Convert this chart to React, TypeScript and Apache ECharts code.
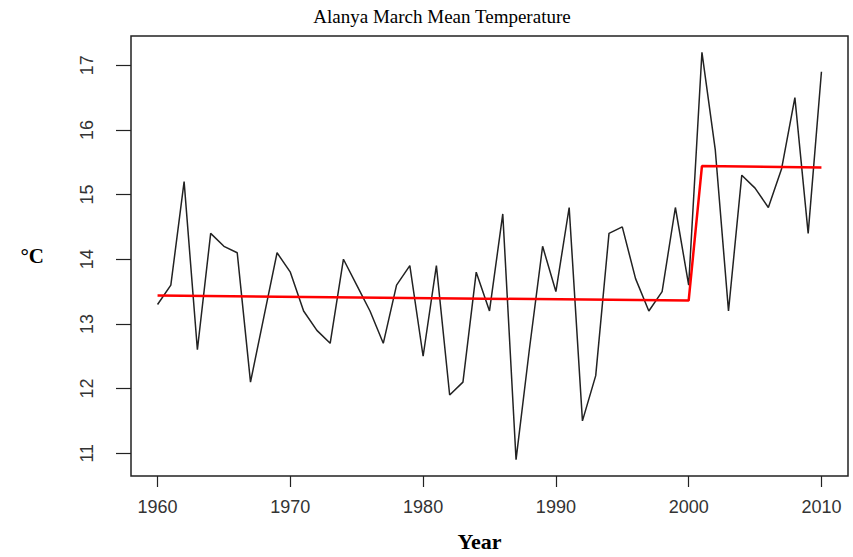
import React, { useEffect, useRef } from "react";
import * as echarts from "echarts";

const years = [
  1960, 1961, 1962, 1963, 1964, 1965, 1966, 1967, 1968, 1969,
  1970, 1971, 1972, 1973, 1974, 1975, 1976, 1977, 1978, 1979,
  1980, 1981, 1982, 1983, 1984, 1985, 1986, 1987, 1988, 1989,
  1990, 1991, 1992, 1993, 1994, 1995, 1996, 1997, 1998, 1999,
  2000, 2001, 2002, 2003, 2004, 2005, 2006, 2007, 2008, 2009, 2010,
];
const temps = [
  13.3, 13.6, 15.2, 12.6, 14.4, 14.2, 14.1, 12.1, 13.1, 14.1,
  13.8, 13.2, 12.9, 12.7, 14.0, 13.6, 13.2, 12.7, 13.6, 13.9,
  12.5, 13.9, 11.9, 12.1, 13.8, 13.2, 14.7, 10.9, 12.6, 14.2,
  13.5, 14.8, 11.5, 12.2, 14.4, 14.5, 13.7, 13.2, 13.5, 14.8,
  13.6, 17.2, 15.7, 13.2, 15.3, 15.1, 14.8, 15.4, 16.5, 14.4, 16.9,
];
const trendYears = [1960, 2000, 2001, 2010];
const trendValues = [13.44, 13.36, 15.44, 15.42];
const xTickLabels = [1960, 1970, 1980, 1990, 2000, 2010];
const yTickLabels = [11, 12, 13, 14, 15, 16, 17];

export default function App() {
  const ref = useRef<HTMLDivElement>(null);
  useEffect(() => {
    if (!ref.current) return;
    const chart = echarts.init(ref.current, null, { renderer: "svg" });
    const tickFont = "Liberation Sans, Arial, sans-serif";
    const serif = "Liberation Serif, Times New Roman, serif";
    chart.setOption({
      animation: false,
      backgroundColor: "#ffffff",
      title: {
        text: "Alanya March Mean Temperature",
        left: 437,
        textAlign: "center",
        top: 2,
        textStyle: { fontFamily: serif, fontSize: 19, fontWeight: "normal", color: "#000" },
      },
      grid: {
        left: 131,
        right: 5,
        top: 36,
        bottom: 77.5,
        show: true,
        borderColor: "#222",
        borderWidth: 1.5,
        backgroundColor: "transparent",
      },
      xAxis: {
        type: "value",
        min: 1958,
        max: 2012,
        name: "Year",
        nameLocation: "middle",
        nameGap: 54,
        nameTextStyle: {
          fontFamily: serif,
          fontSize: 22,
          fontWeight: "bold",
          color: "#000",
          padding: [0, 20, 0, 0],
        },
        axisLine: { show: false },
        splitLine: { show: false },
        axisTick: {
          show: true,
          length: 11,
          customValues: xTickLabels,
          lineStyle: { color: "#222", width: 1.2 },
        },
        axisLabel: {
          customValues: xTickLabels,
          margin: 22,
          fontFamily: tickFont,
          fontSize: 18,
          color: "#333",
          formatter: (v: number) => String(v),
        },
      },
      yAxis: {
        type: "value",
        min: 10.648,
        max: 17.452,
        name: "°C",
        nameLocation: "middle",
        nameRotate: 0,
        nameGap: 87,
        nameTextStyle: { fontFamily: serif, fontSize: 21, fontWeight: "bold", color: "#000" },
        axisLine: { show: false },
        splitLine: { show: false },
        axisTick: {
          show: true,
          length: 15,
          customValues: yTickLabels,
          lineStyle: { color: "#222", width: 1.2 },
        },
        axisLabel: {
          customValues: yTickLabels,
          rotate: 90,
          margin: 35,
          fontFamily: tickFont,
          fontSize: 18,
          color: "#333",
          formatter: (v: number) => String(v),
        },
      },
      series: [
        {
          type: "line",
          data: years.map((y, i) => [y, temps[i]]),
          showSymbol: false,
          symbol: "none",
          lineStyle: { color: "#222", width: 1.5 },
          z: 2,
        },
        {
          type: "line",
          data: trendYears.map((y, i) => [y, trendValues[i]]),
          showSymbol: false,
          symbol: "none",
          lineStyle: { color: "#ff0000", width: 2.5 },
          z: 3,
        },
      ],
    });
    return () => chart.dispose();
  }, []);
  return (
    <div
      ref={ref}
      style={{ position: "absolute", left: 0, top: 0, width: 853, height: 557 }}
    />
  );
}
